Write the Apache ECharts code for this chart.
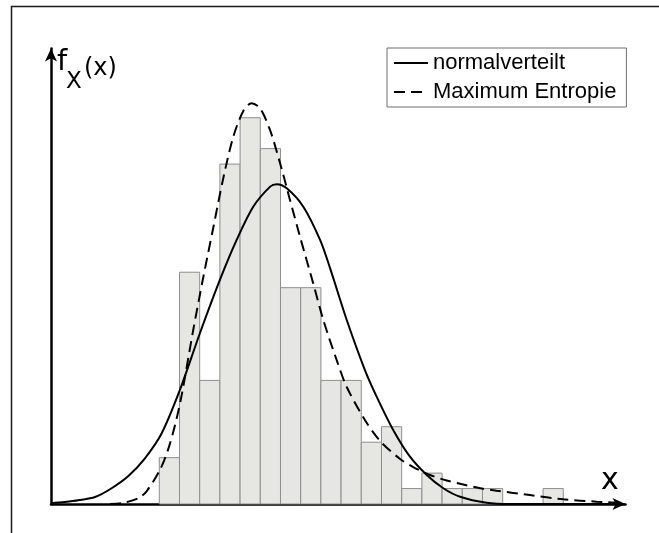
<!DOCTYPE html>
<html>
<head>
<meta charset="utf-8">
<script src="https://cdn.jsdelivr.net/npm/echarts@6/dist/echarts.min.js"></script>
<style>
  html, body { margin: 0; padding: 0; background: #fff; }
  #chart { width: 659px; height: 533px; }
</style>
</head>
<body>
<div id="chart"></div>
<script>
// Histogram: bins of unit width starting at binLeft[i], with their counts
const binLeft = [0, 1, 2, 3, 4, 5, 6, 7, 8, 9, 10, 11, 12, 13, 14, 15, 16, 17, 18, 19];
const binCount = [3, 15, 8, 22, 25, 23, 14, 14, 8, 8, 4, 5, 1, 2, 1, 1, 1, 0, 0, 1];

// Fitted normal density (scaled to counts)
const normalX = [-5.36, -4.68, -4.01, -3.18, -2.36, -1.53, -0.71, 0.12, 1.02, 2.01, 3.0, 3.83, 4.65, 5.49, 5.81, 6.31, 7.13, 7.96, 8.45, 9.28, 10.18, 10.76, 11.58, 12.41, 13.24, 14.06, 14.89, 16.21, 17.36, 20.0, 23.0];
const normalY = [0.05, 0.13, 0.24, 0.45, 1.02, 1.81, 2.96, 4.58, 7.38, 11.05, 14.5, 17.09, 19.24, 20.54, 20.69, 20.43, 19.24, 17.09, 15.28, 11.91, 8.67, 6.95, 4.79, 3.06, 1.88, 1.02, 0.47, 0.08, 0, 0, 0];

// Maximum-entropy density (scaled to counts)
const entropyX = [-2.44, -1.86, -1.04, -0.62, 0.03, 0.43, 0.78, 1.11, 1.68, 2.18, 2.67, 3.17, 3.66, 4.16, 4.57, 4.99, 5.48, 5.98, 6.47, 6.97, 7.62, 8.12, 8.78, 9.28, 10.18, 10.93, 11.92, 12.57, 13.40, 14.23, 15.05, 15.88, 16.70, 18.35, 20.00, 21.65, 22.64];
const entropyY = [0, 0.05, 0.37, 0.84, 2.20, 3.50, 5.11, 7.06, 11.26, 14.69, 17.86, 21.10, 23.75, 25.44, 25.94, 25.61, 24.21, 22.05, 19.68, 17.28, 14.28, 11.91, 9.32, 7.57, 5.44, 4.08, 2.91, 2.39, 1.88, 1.52, 1.26, 1.02, 0.86, 0.58, 0.30, 0.15, 0.08];

const seriesNames = ['normalverteilt', 'Maximum Entropie'];
const yLabel = { base: 'f', sub: 'X', arg: '(x)' };
const xLabel = 'x';

const zip = (xs, ys) => xs.map((x, i) => [x, ys[i]]);
const binData = binLeft
  .map((l, i) => [l, l + 1, binCount[i]])
  .filter(d => d[2] > 0);

const chart = echarts.init(document.getElementById('chart'), null, { renderer: 'canvas' });

const axisCommon = {
  type: 'value',
  axisLine: {
    show: true,
    onZero: false,
    symbol: ['none', 'arrow'],
    symbolSize: [9, 13],
    lineStyle: { color: '#000', width: 2.5 }
  },
  axisTick: { show: false },
  axisLabel: { show: false },
  splitLine: { show: false }
};

const labelFont = '"DejaVu Sans", Verdana, sans-serif';

chart.setOption({
  animation: false,
  backgroundColor: '#fff',
  grid: { left: 51, right: 33.5, top: 48.5, bottom: 29 },
  xAxis: Object.assign({}, axisCommon, { min: -5.361, max: 23.08 }),
  yAxis: Object.assign({}, axisCommon, { min: 0, max: 29.48 }),
  legend: {
    orient: 'vertical',
    left: 387,
    top: 48,
    padding: [4, 10, 4, 6],
    itemGap: 7,
    itemWidth: 34,
    itemHeight: 22,
    selectedMode: false,
    borderColor: '#6e6e6e',
    borderWidth: 1,
    backgroundColor: '#fff',
    itemStyle: { opacity: 0 },
    textStyle: { fontFamily: '"Liberation Sans", Arial, sans-serif', fontSize: 22, color: '#000' },
    data: seriesNames
  },
  graphic: [
    {
      type: 'rect', z: -10, silent: true,
      shape: { x: 11.5, y: 6.5, width: 700, height: 600 },
      style: { fill: 'none', stroke: '#1a1a1a', lineWidth: 1.5 }
    },
    {
      type: 'text', left: 57, top: 48, silent: true,
      style: { text: yLabel.base, fontFamily: labelFont, fontSize: 29, fill: '#000' }
    },
    {
      type: 'text', left: 66, top: 71, silent: true,
      style: { text: yLabel.sub, fontFamily: labelFont, fontSize: 23, fill: '#000' }
    },
    {
      type: 'text', left: 84, top: 57, silent: true,
      style: { text: yLabel.arg, fontFamily: labelFont, fontSize: 24, fill: '#000' }
    },
    {
      type: 'text', left: 601, top: 466, silent: true,
      style: { text: xLabel, fontFamily: labelFont, fontSize: 30, fill: '#000' }
    }
  ],
  series: [
    {
      type: 'custom',
      name: 'Histogramm',
      z: 1,
      encode: { x: [0, 1], y: 2 },
      data: binData,
      renderItem: function (params, api) {
        const p0 = api.coord([api.value(0), api.value(2)]);
        const p1 = api.coord([api.value(1), 0]);
        return {
          type: 'rect',
          shape: { x: p0[0], y: p0[1], width: p1[0] - p0[0], height: p1[1] - p0[1] },
          style: { fill: '#e6e6e3', stroke: '#8e8e8e', lineWidth: 1 }
        };
      }
    },
    {
      type: 'line',
      name: seriesNames[0],
      z: 3,
      data: zip(normalX, normalY),
      smooth: 0.3,
      symbol: 'none',
      lineStyle: { color: '#000', width: 2, type: 'solid' },
      itemStyle: { color: '#000' }
    },
    {
      type: 'line',
      name: seriesNames[1],
      z: 3,
      data: zip(entropyX, entropyY),
      smooth: 0.3,
      symbol: 'none',
      lineStyle: { color: '#000', width: 2, type: [11, 6] },
      itemStyle: { color: '#000' }
    }
  ]
});
</script>
</body>
</html>
